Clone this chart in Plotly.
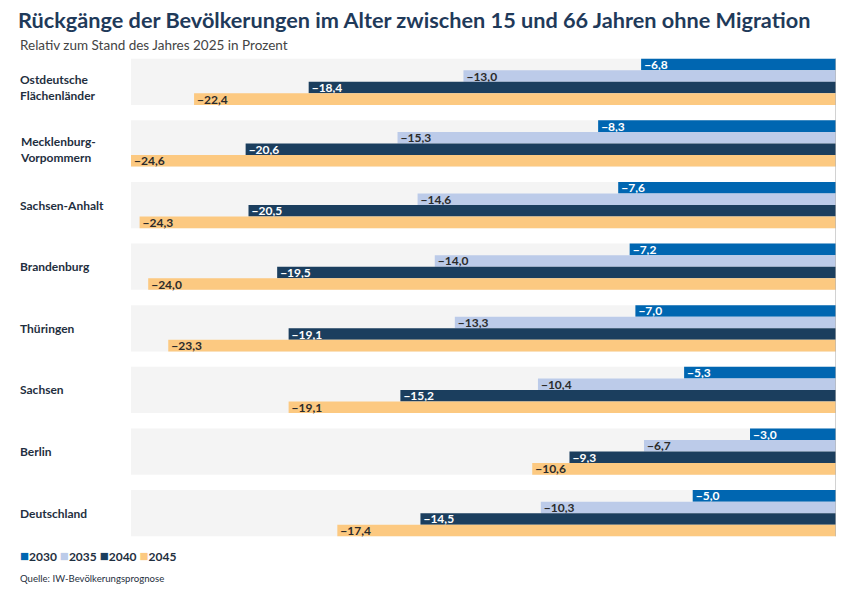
import plotly.graph_objects as go

# Daten (in Prozent, relativ zu 2025)
regionen = [
    "Ostdeutsche<br>Flächenländer",
    "Mecklenburg-<br>Vorpommern",
    "Sachsen-Anhalt",
    "Brandenburg",
    "Thüringen",
    "Sachsen",
    "Berlin",
    "Deutschland",
]
jahre = ["2030", "2035", "2040", "2045"]
w2030 = [-6.8, -8.3, -7.6, -7.2, -7.0, -5.3, -3.0, -5.0]
w2035 = [-13.0, -15.3, -14.6, -14.0, -13.3, -10.4, -6.7, -10.3]
w2040 = [-18.4, -20.6, -20.5, -19.5, -19.1, -15.2, -9.3, -14.5]
w2045 = [-22.4, -24.6, -24.3, -24.0, -23.3, -19.1, -10.6, -17.4]

werte = [w2030, w2035, w2040, w2045]
farben = ["#0066b1", "#bccbe9", "#1b3e5e", "#fcc981"]
textfarben = ["white", "#2b2b2b", "white", "#2b2b2b"]

BARGAP = 0.25
# die Seite hat 8px Rand, daher Figur um 8px kleiner
W, H = 848, 587


def fmt(v):
    return ("\u2212" + f"{abs(v):.1f}").replace(".", ",")


fig = go.Figure()

for jahr, vals, farbe, tf in zip(jahre, werte, farben, textfarben):
    fig.add_trace(go.Bar(
        y=list(range(len(regionen))),
        x=vals,
        orientation="h",
        name=jahr,
        marker=dict(color=farbe, line=dict(width=0)),
        text=[fmt(v) for v in vals],
        textposition="inside",
        insidetextanchor="end",
        constraintext="none",
        textfont=dict(family="Lato", size=12, color=tf, weight="bold"),
        hoverinfo="skip",
    ))

# graue Hintergrundbänder je Region + Regionsnamen
for i, reg in enumerate(regionen):
    fig.add_shape(
        type="rect", xref="x domain", yref="y",
        x0=0, x1=1, y0=i - (1 - BARGAP) / 2, y1=i + (1 - BARGAP) / 2,
        fillcolor="#f4f4f4", line=dict(width=0), layer="below",
    )
    fig.add_annotation(
        xref="paper", yref="y", x=0, y=i,
        text=reg, showarrow=False, xanchor="left", yanchor="middle",
        align="left", yshift=-6 if "<br>" in reg else 0,
        font=dict(family="Lato", size=12, color="#1f2f40", weight="bold"),
    )

# Nulllinie
fig.add_shape(
    type="line", xref="x", yref="y",
    x0=0, x1=0, y0=-(1 - BARGAP) / 2, y1=len(regionen) - 1 + (1 - BARGAP) / 2,
    line=dict(color="#b5b5b5", width=1.2),
)

# Legende als Text mit farbigen Quadraten
legende = " ".join(
    f"<span style='color:{f};font-size:15px'>\u25a0</span>{j}"
    for j, f in zip(jahre, farben)
)
fig.add_annotation(
    xref="paper", yref="paper", x=0, y=-0.0223,
    text=legende, showarrow=False, xanchor="left", yanchor="middle",
    font=dict(family="Lato", size=12, color="#1f2f40", weight="bold"),
)

fig.add_annotation(
    xref="paper", yref="paper", x=0, y=1.012,
    text="Relativ zum Stand des Jahres 2025 in Prozent",
    showarrow=False, xanchor="left", yanchor="middle",
    font=dict(family="Lato", size=13.5, color="#444444"),
)
fig.add_annotation(
    xref="paper", yref="paper", x=0, y=-0.069,
    text="Quelle: IW-Bevölkerungsprognose",
    showarrow=False, xanchor="left", yanchor="middle",
    font=dict(family="Lato", size=9.6, color="#1f2f40"),
)

fig.update_layout(
    width=W, height=H,
    margin=dict(l=10, r=20, t=43, b=51),
    paper_bgcolor="white", plot_bgcolor="white",
    title=dict(
        text="<b>Rückgänge der Bevölkerungen im Alter zwischen 15 und 66 Jahren ohne Migration</b>",
        xref="container", yref="container", x=10 / W, y=1 - 12 / H,
        xanchor="left", yanchor="middle",
        font=dict(family="Lato", size=21.7, color="#1f3a5a"),
    ),
    barmode="group",
    bargap=BARGAP,
    bargroupgap=0,
    showlegend=False,
    xaxis=dict(
        domain=[113 / 818, 1], range=[-24.6, 0], showgrid=False, zeroline=False,
        showticklabels=False, showline=False, ticks="", fixedrange=True,
    ),
    yaxis=dict(
        autorange="reversed", showgrid=False, zeroline=False,
        showticklabels=False, showline=False, ticks="", fixedrange=True,
    ),
)

fig.write_html("out.html")
